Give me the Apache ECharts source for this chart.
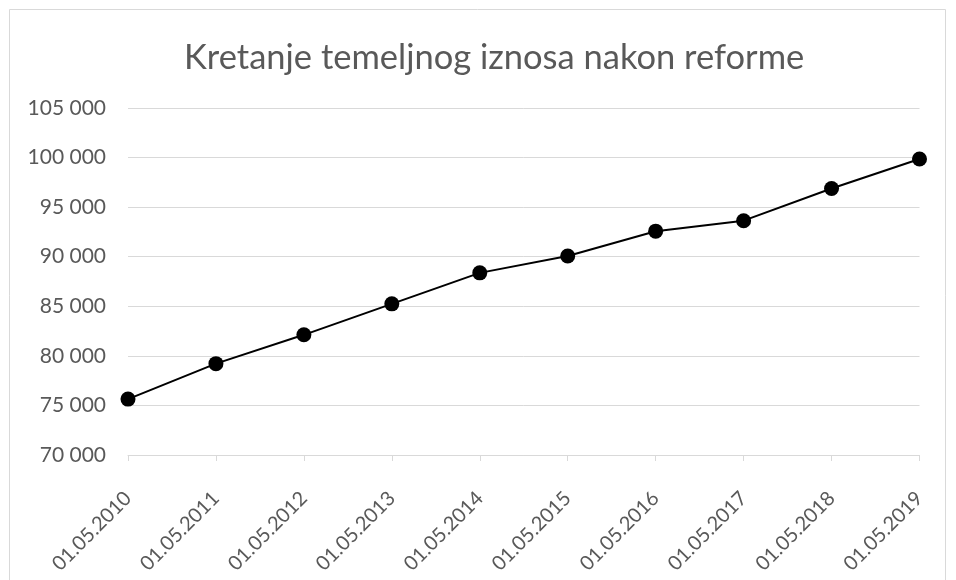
<!DOCTYPE html>
<html><head><meta charset="utf-8">
<script src="https://cdn.jsdelivr.net/npm/echarts@6/dist/echarts.min.js"></script>
<style>html,body{margin:0;padding:0;background:#fff}#c{width:956px;height:580px}</style>
</head><body><div id="c"></div>
<script>
const titleText = 'Kretanje temeljnog iznosa nakon reforme';
const categories = ['01.05.2010','01.05.2011','01.05.2012','01.05.2013','01.05.2014','01.05.2015','01.05.2016','01.05.2017','01.05.2018','01.05.2019'];
const values = [75641, 79216, 82122, 85245, 88370, 90068, 92576, 93634, 96883, 99858];
const yTicks = [70000, 75000, 80000, 85000, 90000, 95000, 100000, 105000];

const chart = echarts.init(document.getElementById('c'), null, {renderer:'canvas'});
const fmt = v => String(v).replace(/\B(?=(\d{3})+(?!\d))/g, ' ');
chart.setOption({
  animation:false,
  backgroundColor:'#fff',
  title:{text:titleText,left:179,top:35,textStyle:{fontFamily:'Lato',fontSize:34.5,fontWeight:'normal',color:'#595959'}},
  graphic:[{type:'rect',shape:{x:9.5,y:9.5,width:936,height:600},style:{fill:'none',stroke:'#d9d9d9',lineWidth:1}}],
  grid:{left:128,right:36.5,top:108,bottom:125,outerBoundsMode:'none'},
  xAxis:{type:'category',data:categories,boundaryGap:false,
    axisLine:{lineStyle:{color:'#d9d9d9',width:1}},
    axisTick:{show:true,length:6,lineStyle:{color:'#d9d9d9'}},
    axisLabel:{rotate:45,color:'#595959',fontFamily:'Lato',fontSize:20,margin:40,interval:0}},
  yAxis:{type:'value',min:yTicks[0],max:yTicks[yTicks.length-1],interval:5000,
    axisLine:{show:false},axisTick:{show:false},
    splitLine:{lineStyle:{color:'#d9d9d9',width:1}},
    axisLabel:{formatter:fmt,color:'#595959',fontFamily:'Lato',fontSize:21,margin:22}},
  series:[{type:'line',data:values,symbol:'circle',symbolSize:15,
    lineStyle:{color:'#000',width:2},itemStyle:{color:'#000'}}]
});
</script></body></html>
